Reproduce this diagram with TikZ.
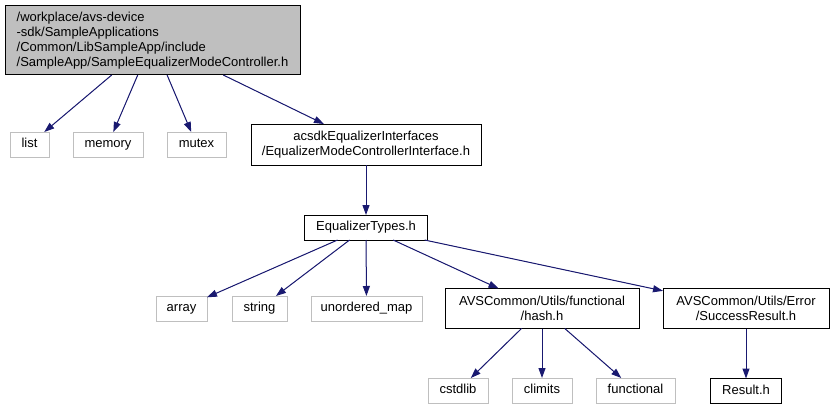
\documentclass[tikz,border=0pt]{standalone}
\usepackage{fontspec}
\setmainfont{Liberation Sans}
\usepackage{tikz}
\usetikzlibrary{arrows.meta, positioning}
\usepackage{xcolor}
\definecolor{edgeblue}{HTML}{191970}
\definecolor{sysgray}{HTML}{BFBFBF}

\begin{document}
\begin{tikzpicture}[
      x=1pt, y=1pt, >={Triangle[length=10pt, width=7pt]},
      file/.style={rectangle, draw=black, line width=1pt, outer sep=0pt, inner xsep=2pt, inner ysep=1pt, align=center, font=\fontsize{13}{15}\selectfont},
      oneline/.style={file, minimum height=25pt, text height=9.5pt, text depth=2.8pt},
      sys/.style={oneline, draw=sysgray},
      root/.style={file, fill=sysgray, align=left, minimum width=295pt, minimum height=69pt},
      dep/.style={draw=edgeblue, fill=edgeblue, line width=1pt, ->}
    ]
    \useasboundingbox (0,0) rectangle (834,-409);
    % Nodes
    \node[root] (ctrl) at (152.5,-40.5) {/workplace/avs-device\\-sdk/SampleApplications\\/Common/LibSampleApp/include\\/SampleApp/SampleEqualizerModeController.h};
    \node[sys, minimum width=39pt] (list) at (29.5,-144.5) {list};
    \node[sys, minimum width=70pt, right=24pt of list] (memory) {memory};
    \node[sys, minimum width=59pt, right=24pt of memory] (mutex) {mutex};
    \node[file, minimum width=230pt, minimum height=41pt, right=25pt of mutex] (iface) {acsdkEqualizerInterfaces\\/EqualizerModeControllerInterface.h};
    \node[oneline, minimum width=123pt, below=50pt of iface] (types) {EqualizerTypes.h};

    \node[sys, minimum width=51pt] (array) at (181.5,-308.5) {array};
    \node[sys, minimum width=55pt, right=25pt of array] (string) {string};
    \node[sys, minimum width=111pt, right=24pt of string] (umap) {unordered\_map};
    \node[file, minimum width=194pt, minimum height=40pt, right=23pt of umap] (hash) {AVSCommon/Utils/functional\\/hash.h};
    \node[file, minimum width=166pt, minimum height=40pt, right=24pt of hash] (success) {AVSCommon/Utils/Error\\/SuccessResult.h};

    \node[sys, minimum width=60pt] (cstdlib) at (458,-390.5) {cstdlib};
    \node[sys, minimum width=60pt, right=24pt of cstdlib] (climits) {climits};
    \node[sys, minimum width=79pt, right=24pt of climits] (functional) {functional};
    \node[oneline, minimum width=71pt, below=50pt of success] (result) {Result.h};

    % Includes
    \draw[dep] (ctrl) -- (list);
    \draw[dep] (ctrl) -- (memory);
    \draw[dep] (ctrl) -- (mutex);
    \draw[dep] (ctrl) -- (iface);
    \draw[dep] (iface) -- (types);
    \draw[dep] (types) -- (array);
    \draw[dep] (types) -- (string);
    \draw[dep] (types) -- (umap);
    \draw[dep] (types) -- (hash);
    \draw[dep] (types) -- (success);
    \draw[dep] (hash) -- (cstdlib);
    \draw[dep] (hash) -- (climits);
    \draw[dep] (hash) -- (functional);
    \draw[dep] (success) -- (result);
  \end{tikzpicture}
\end{document}
